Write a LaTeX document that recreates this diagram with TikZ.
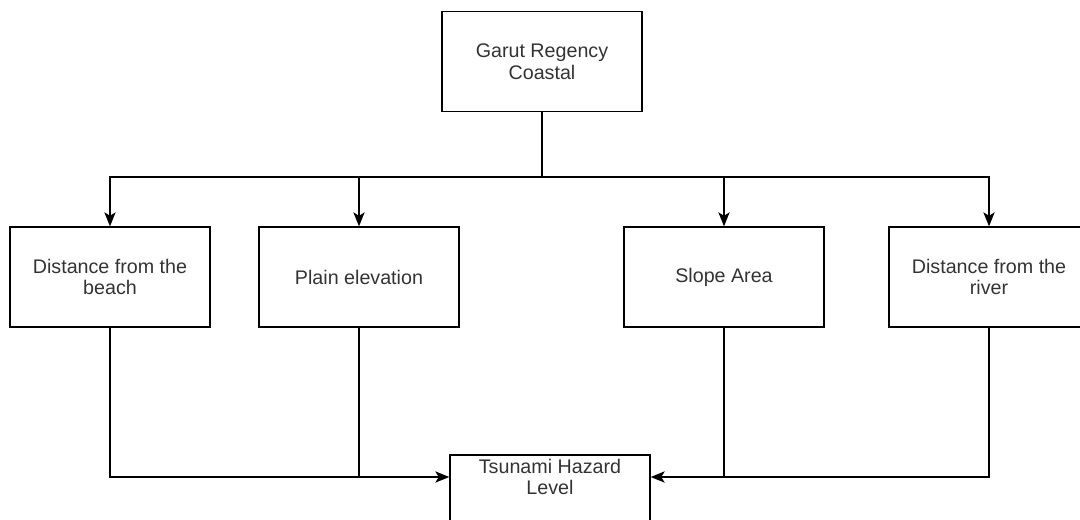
\documentclass[tikz,border=0pt]{standalone}
\usepackage{fontspec}
\setmainfont{Liberation Sans}
\usetikzlibrary{arrows.meta}
\begin{document}
\begin{tikzpicture}[x=0.025cm,y=-0.025cm,line width=0.9pt,
    >={Stealth[length=10pt,width=8pt,inset=2.5pt]},
    factor/.style={draw,minimum width=5cm,minimum height=2.5cm,align=center,
      inner sep=2pt,text=black!80,font=\fontsize{14}{15.5}\selectfont}]
  \clip (0,0) rectangle (1080,520);
  \node[factor] (coast) at (542,61.5) {Garut Regency\\Coastal};
  \node[factor] (beach) at (110,277) {Distance from the\\beach};
  \node[factor] (plain) at (359,277) {Plain elevation};
  \node[factor] (slope) at (724,277) {Slope Area};
  \node[factor] (river) at (989,277) {Distance from the\\river};
  \node[factor] (level) at (550,505) {};
  \node[align=center,inner sep=2pt,text=black!80,
    font=\fontsize{14}{15.5}\selectfont] (levtext) at (550,477)
    {Tsunami Hazard\\Level};
  \coordinate (bus) at (542,177);
  \coordinate (inL) at (level.west |- levtext);
  \coordinate (inR) at (level.east |- levtext);
  \draw (coast.south) -- (bus);
  \draw[->] (bus) -| (beach.north);
  \draw[->] (bus) -| (plain.north);
  \draw[->] (bus) -| (slope.north);
  \draw[->] (bus) -| (river.north);
  \draw[->] (beach.south) |- (inL);
  \draw (plain.south) -- (plain.south |- inL);
  \draw[->] (river.south) |- (inR);
  \draw (slope.south) -- (slope.south |- inR);
\end{tikzpicture}
\end{document}
